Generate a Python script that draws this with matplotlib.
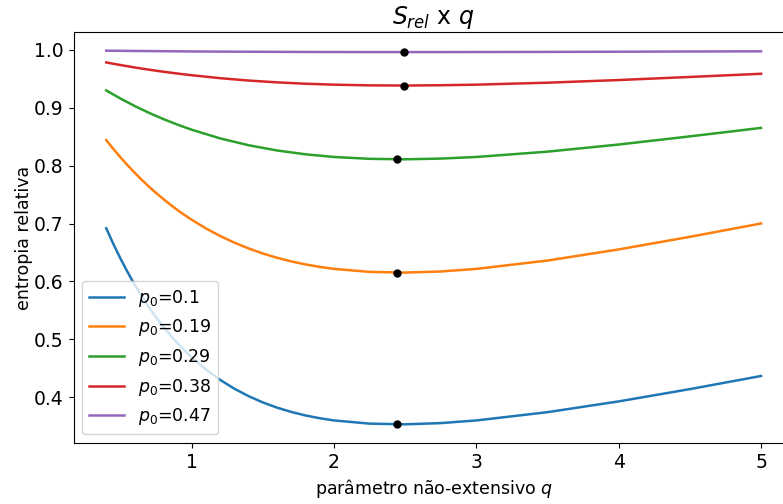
import matplotlib
matplotlib.use("Agg")
import matplotlib.pyplot as plt

# q grid used for the two steepest curves (denser on the left)
q_fine = [0.4, 0.45, 0.5, 0.55, 0.6, 0.65, 0.7, 0.75, 0.8, 0.85, 0.9, 0.95, 1.0, 1.1, 1.2, 1.3,
          1.4, 1.5, 1.6, 1.7, 1.8, 1.9, 2.0, 2.25, 2.5, 2.75, 3.0, 3.5, 4.0, 4.5, 5.0]
# q grid used for the flatter curves
q_coarse = [0.4, 0.5, 0.6, 0.7, 0.8, 0.9, 1.0, 1.2, 1.4, 1.6, 1.8, 2.0, 2.25, 2.5, 2.75, 3.0,
            3.5, 4.0, 4.5, 5.0]

s_p010 = [0.6919, 0.6648, 0.6396, 0.6162, 0.5944, 0.5743, 0.5556, 0.5383, 0.5222, 0.5074,
          0.4936, 0.4808, 0.4690, 0.4480, 0.4301, 0.4148, 0.4020, 0.3911, 0.3821, 0.3747,
          0.3686, 0.3638, 0.3600, 0.3545, 0.3533, 0.3554, 0.3600, 0.3743, 0.3929, 0.4141, 0.4368]
s_p019 = [0.8442, 0.8289, 0.8145, 0.8008, 0.7878, 0.7755, 0.7639, 0.7529, 0.7426, 0.7328,
          0.7235, 0.7149, 0.7067, 0.6917, 0.6786, 0.6671, 0.6571, 0.6484, 0.6410, 0.6347,
          0.6295, 0.6252, 0.6218, 0.6166, 0.6154, 0.6173, 0.6218, 0.6362, 0.6554, 0.6772, 0.7002]
s_p029 = [0.9301, 0.9160, 0.9031, 0.8914, 0.8807, 0.8710, 0.8622, 0.8472, 0.8354, 0.8263,
          0.8197, 0.8151, 0.8119, 0.8111, 0.8123, 0.8151, 0.8243, 0.8366, 0.8507, 0.8653]
s_p038 = [0.9784, 0.9739, 0.9697, 0.9659, 0.9624, 0.9592, 0.9563, 0.9512, 0.9471, 0.9440,
          0.9416, 0.9400, 0.9388, 0.9385, 0.9390, 0.9400, 0.9434, 0.9480, 0.9533, 0.9588]
s_p047 = [0.9987, 0.9985, 0.9982, 0.9980, 0.9978, 0.9976, 0.9974, 0.9971, 0.9969, 0.9967,
          0.9965, 0.9964, 0.9963, 0.9963, 0.9963, 0.9964, 0.9966, 0.9969, 0.9973, 0.9976]

series = [(q_fine, s_p010), (q_fine, s_p019), (q_coarse, s_p029), (q_coarse, s_p038), (q_coarse, s_p047)]
p0_labels = ["0.1", "0.19", "0.29", "0.38", "0.47"]

q_min = [2.44, 2.44, 2.44, 2.49, 2.49]
s_min = [0.3533, 0.6154, 0.8111, 0.9385, 0.9963]

fig = plt.figure(figsize=(7.83, 5.04), dpi=100)
ax = fig.add_axes([73.5 / 783, 61 / 504, 720.3 / 783, 411 / 504])

for (qq, vals), lab in zip(series, p0_labels):
    ax.plot(qq, vals, lw=1.8, label=r"$p_0$=" + lab)
for qm, sm in zip(q_min, s_min):
    ax.plot(qm, sm, "k.", markersize=10)

ax.tick_params(labelsize=13.5)
ax.set_title(r"$S_{rel}$ x $q$", fontsize=17)
ax.set_xlabel(r"parâmetro não-extensivo $q$", fontsize=12.5)
ax.set_ylabel("entropia relativa", fontsize=12.5, labelpad=1)
ax.legend(loc="lower left", fontsize=12.5)

fig.savefig("out.png", dpi=100)
